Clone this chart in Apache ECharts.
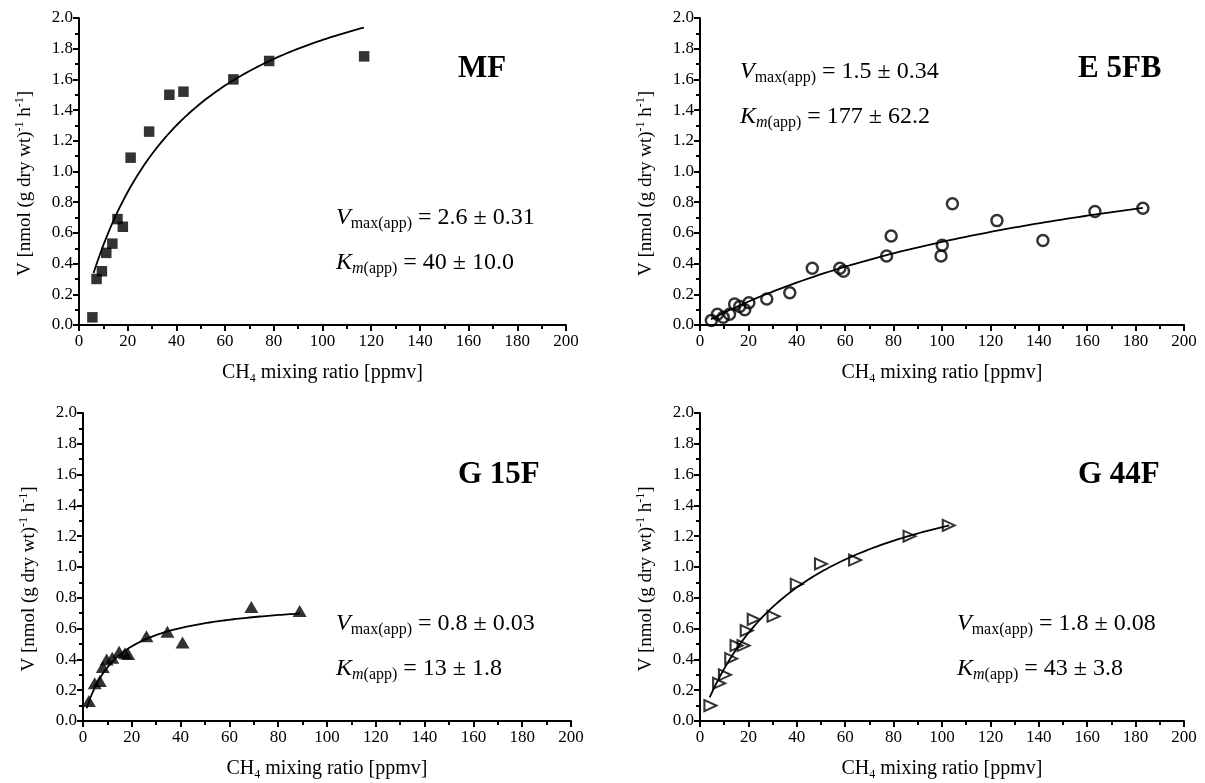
<!DOCTYPE html>
<html>
<head>
<meta charset="utf-8">
<script src="https://cdn.jsdelivr.net/npm/echarts@6/dist/echarts.min.js"></script>
<style>
  html, body { margin: 0; padding: 0; background: #fff; }
  #chart { width: 1205px; height: 783px; }
</style>
</head>
<body>
<div id="chart"></div>
<script>
// Measured uptake rates V versus CH4 mixing ratio for four soils
const panelNames = ['MF', 'E 5FB', 'G 15F', 'G 44F'];

const mfX = [5.5, 7.2, 9.4, 11.2, 13.7, 15.8, 18.0, 21.2, 28.8, 37.1, 42.9, 63.4, 78.1, 117.1];
const mfY = [0.05, 0.30, 0.35, 0.47, 0.53, 0.69, 0.64, 1.09, 1.26, 1.50, 1.52, 1.60, 1.72, 1.75];

const e5fbX = [4.7, 7.2, 9.6, 12.2, 14.3, 16.4, 18.5, 20.2, 27.6, 37.1, 46.4, 57.8, 59.3, 77.1, 79.0, 99.6, 100.1, 104.3, 122.7, 141.7, 163.2, 183.0];
const e5fbY = [0.03, 0.07, 0.05, 0.07, 0.136, 0.12, 0.10, 0.145, 0.17, 0.21, 0.37, 0.37, 0.35, 0.45, 0.58, 0.45, 0.52, 0.79, 0.68, 0.55, 0.74, 0.76];

const g15fX = [2.4, 4.8, 6.9, 8.1, 9.7, 12.0, 14.8, 17.2, 18.5, 26.0, 34.6, 40.8, 69.0, 88.8];
const g15fY = [0.13, 0.245, 0.26, 0.35, 0.40, 0.41, 0.45, 0.44, 0.435, 0.55, 0.58, 0.51, 0.74, 0.715];

const g44fX = [4.3, 7.9, 10.3, 12.9, 15.1, 18.0, 19.3, 22.2, 30.4, 40.0, 50.0, 64.1, 86.6, 102.8];
const g44fY = [0.10, 0.245, 0.30, 0.405, 0.49, 0.49, 0.587, 0.66, 0.68, 0.888, 1.02, 1.045, 1.20, 1.27];

// Apparent kinetic parameters (Michaelis–Menten fit) and fitted ranges
const vmaxApp = [2.6, 1.5, 0.8, 1.8];
const vmaxErr = ['0.31', '0.34', '0.03', '0.08'];
const kmApp = [40, 177, 13, 43];
const kmErr = ['10.0', '62.2', '1.8', '3.8'];
const fitStart = [6, 4.5, 1.5, 4];
const fitEnd = [117, 183, 89, 103];

const xTicks = [0, 20, 40, 60, 80, 100, 120, 140, 160, 180, 200];
const yTicks = [0.0, 0.2, 0.4, 0.6, 0.8, 1.0, 1.2, 1.4, 1.6, 1.8, 2.0];

const FONT = 'Liberation Serif';

const xsAll = [mfX, e5fbX, g15fX, g44fX];
const ysAll = [mfY, e5fbY, g15fY, g44fY];

function fitCurve(i) {
  const pts = [];
  const n = 80;
  for (let k = 0; k <= n; k++) {
    const s = fitStart[i] + (fitEnd[i] - fitStart[i]) * k / n;
    pts.push([s, vmaxApp[i] * s / (kmApp[i] + s)]);
  }
  return pts;
}

const grids = [
  { left: 79, top: 18, width: 487, height: 307 },
  { left: 700, top: 18, width: 484, height: 307 },
  { left: 83, top: 413, width: 488, height: 308 },
  { left: 700, top: 413, width: 484, height: 308 }
];

const axisLineStyle = { color: '#000', width: 2 };

const xAxes = grids.map((g, i) => ({
  type: 'value', gridIndex: i,
  min: xTicks[0], max: xTicks[xTicks.length - 1], interval: xTicks[1] - xTicks[0],
  axisLine: { show: true, onZero: false, lineStyle: axisLineStyle },
  axisTick: { show: true, inside: false, length: 6, lineStyle: { color: '#000', width: 2 } },
  minorTick: { show: true, splitNumber: 2, length: 4, lineStyle: { color: '#000', width: 2 } },
  splitLine: { show: false },
  axisLabel: { color: '#000', fontFamily: FONT, fontSize: 17, margin: 8 },
  name: '{a|CH}{s|4}{a| mixing ratio [ppmv]}',
  nameLocation: 'middle', nameGap: 36,
  nameTextStyle: {
    rich: {
      a: { fontFamily: FONT, fontSize: 20, color: '#000', lineHeight: 24 },
      s: { fontFamily: FONT, fontSize: 12, color: '#000', lineHeight: 12, verticalAlign: 'bottom' }
    }
  }
}));

const yAxes = grids.map((g, i) => ({
  type: 'value', gridIndex: i,
  min: yTicks[0], max: yTicks[yTicks.length - 1], interval: 0.2,
  axisLine: { show: true, onZero: false, lineStyle: axisLineStyle },
  axisTick: { show: true, inside: false, length: 6, lineStyle: { color: '#000', width: 2 } },
  minorTick: { show: true, splitNumber: 2, length: 4, lineStyle: { color: '#000', width: 2 } },
  splitLine: { show: false },
  axisLabel: { color: '#000', fontFamily: FONT, fontSize: 17, margin: 6, formatter: v => v.toFixed(1) },
  name: '{a|V [nmol (g dry wt)}{p|-1}{a| h}{p|-1}{a|]}',
  nameLocation: 'middle', nameRotate: 90, nameGap: 42,
  nameTextStyle: {
    padding: [0, 24, 0, 0],
    rich: {
      a: { fontFamily: FONT, fontSize: 19, color: '#000', lineHeight: 23 },
      p: { fontFamily: FONT, fontSize: 12, color: '#000', lineHeight: 12, verticalAlign: 'top' }
    }
  }
}));

const markerStyles = [
  { symbol: 'rect', symbolSize: 10.5, symbolRotate: 0, itemStyle: { color: '#000' } },
  { symbol: 'circle', symbolSize: 11, symbolRotate: 0, itemStyle: { color: 'rgba(255,255,255,0)', borderColor: '#000', borderWidth: 2.5 } },
  { symbol: 'triangle', symbolSize: [14, 12], symbolRotate: 0, itemStyle: { color: '#000' } },
  { symbol: 'triangle', symbolSize: [11, 12], symbolRotate: -90, itemStyle: { color: 'rgba(255,255,255,0)', borderColor: '#000', borderWidth: 2 } }
];

const series = [];
for (let i = 0; i < 4; i++) {
  series.push({
    type: 'line', xAxisIndex: i, yAxisIndex: i,
    data: fitCurve(i), showSymbol: false, smooth: false,
    lineStyle: { color: '#000', width: 1.8 }, z: 2, silent: true
  });
  series.push(Object.assign({
    type: 'scatter', xAxisIndex: i, yAxisIndex: i,
    data: xsAll[i].map((x, k) => [x, ysAll[i][k]]), z: 3
  }, markerStyles[i]));
}

// Panel labels and fitted-parameter annotations
const nameBoxes = [
  { left: 458, top: 53 },
  { left: 1078, top: 53 },
  { left: 458, top: 459 },
  { left: 1078, top: 459 }
];
const eqBoxes = [
  { left: 336, top: 206 },
  { left: 740, top: 60 },
  { left: 336, top: 612 },
  { left: 957, top: 612 }
];
const eqLineGap = 45;

const eqRich = {
  v: { fontFamily: FONT, fontSize: 24, fontStyle: 'italic', color: '#000', lineHeight: 28 },
  s: { fontFamily: FONT, fontSize: 16, color: '#000', lineHeight: 16, verticalAlign: 'bottom' },
  si: { fontFamily: FONT, fontSize: 16, fontStyle: 'italic', color: '#000', lineHeight: 16, verticalAlign: 'bottom' },
  t: { fontFamily: FONT, fontSize: 24, color: '#000', lineHeight: 28 }
};

const graphics = [];
for (let i = 0; i < 4; i++) {
  graphics.push({
    type: 'text', left: nameBoxes[i].left, top: nameBoxes[i].top,
    style: { text: panelNames[i], fontFamily: FONT, fontSize: 31, fontWeight: 'bold', fill: '#000' }
  });
  graphics.push({
    type: 'text', left: eqBoxes[i].left, top: eqBoxes[i].top,
    style: {
      text: '{v|V}{s|max(app)}{t| = ' + vmaxApp[i] + ' ± ' + vmaxErr[i] + '}',
      rich: eqRich
    }
  });
  graphics.push({
    type: 'text', left: eqBoxes[i].left, top: eqBoxes[i].top + eqLineGap,
    style: {
      text: '{v|K}{si|m}{s|(app)}{t| = ' + kmApp[i] + ' ± ' + kmErr[i] + '}',
      rich: eqRich
    }
  });
}

const chart = echarts.init(document.getElementById('chart'), null, { renderer: 'canvas' });
chart.setOption({
  animation: false,
  backgroundColor: '#fff',
  grid: grids,
  xAxis: xAxes,
  yAxis: yAxes,
  series: series,
  graphic: graphics
});
</script>
</body>
</html>
